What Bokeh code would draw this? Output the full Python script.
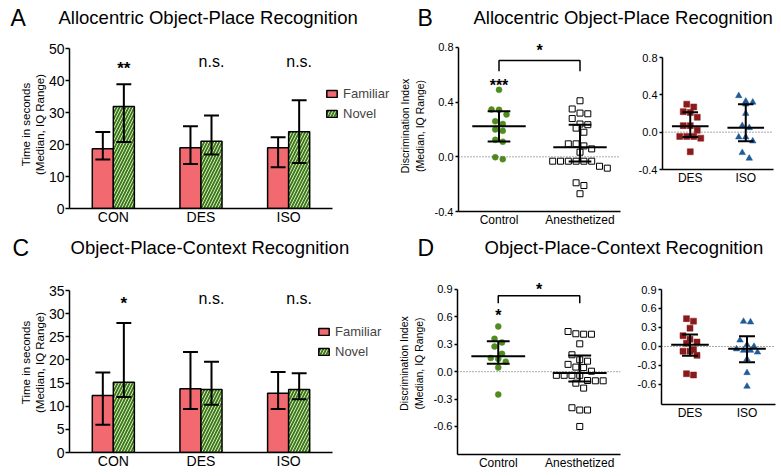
from bokeh.plotting import figure
from bokeh.models import Range1d, FixedTicker, Span, Label, Legend, LegendItem, NumeralTickFormatter
from bokeh.layouts import column, row
from bokeh.embed import file_html
from bokeh.resources import INLINE

FONT = "Liberation Sans"

# ---------------- data ----------------
groups = ["CON", "DES", "ISO"]
series_names = ["Familiar", "Novel"]

a_letter = "A"
a_title = "Allocentric Object-Place Recognition"
a_fam_median = [18.7, 19.0, 19.0]
a_fam_q1 = [15.3, 13.9, 12.9]
a_fam_q3 = [23.9, 25.7, 22.3]
a_nov_median = [31.9, 21.0, 24.0]
a_nov_q1 = [20.8, 16.9, 14.2]
a_nov_q3 = [38.8, 29.1, 33.8]
a_sig = ["**", "n.s.", "n.s."]
a_yticks = [0, 10, 20, 30, 40, 50]

c_letter = "C"
c_title = "Object-Place-Context Recognition"
c_fam_median = [12.3, 13.8, 12.8]
c_fam_q1 = [6.0, 9.4, 9.4]
c_fam_q3 = [17.3, 21.7, 17.4]
c_nov_median = [15.2, 13.6, 13.6]
c_nov_q1 = [12.0, 10.3, 11.5]
c_nov_q3 = [28.0, 19.6, 17.1]
c_sig = ["*", "n.s.", "n.s."]
c_yticks = [0, 5, 10, 15, 20, 25, 30, 35]

di_groups = ["Control", "Anesthetized"]
agent_groups = ["DES", "ISO"]

b_letter = "B"
b_title = "Allocentric Object-Place Recognition"
b_control = [0.49, 0.346, 0.344, 0.31, 0.26, 0.24, 0.20, 0.19, 0.124, 0.11, -0.003, -0.017]
b_anesth = [0.41, 0.35, 0.32, 0.315, 0.28, 0.24, 0.235, 0.21, 0.18, 0.095, 0.095, 0.08, 0.058,
            0.034, -0.032, -0.032, -0.032, -0.032, -0.032, -0.032, -0.069, -0.083, -0.19, -0.21, -0.27]
b_des = [0.30, 0.27, 0.22, 0.21, 0.16, 0.07, 0.07, 0.02, -0.046, -0.046, -0.046, -0.064, -0.21]
b_iso = [0.39, 0.33, 0.32, 0.30, 0.20, 0.07, 0.047, -0.053, -0.053, -0.096, -0.22, -0.28]
b_di_median = [0.224, 0.07]
b_di_q1 = [0.112, -0.034]
b_di_q3 = [0.334, 0.234]
b_agent_median = [0.064, 0.047]
b_agent_q1 = [-0.053, -0.096]
b_agent_q3 = [0.214, 0.30]
b_yticks = [-0.4, 0.0, 0.4, 0.8]
b_sig_control = "***"
b_sig_between = "*"

d_letter = "D"
d_title = "Object-Place-Context Recognition"
d_control = [0.495, 0.36, 0.32, 0.275, 0.195, 0.15, 0.14, 0.11, 0.045, -0.25]
d_anesth = [0.44, 0.415, 0.41, 0.41, 0.305, 0.185, 0.13, 0.115, 0.08, 0.05, 0.045, 0.005,
            -0.04, -0.04, -0.04, -0.04, -0.097, -0.10, -0.10, -0.126, -0.18, -0.395, -0.42, -0.42, -0.6]
d_des = [0.44, 0.40, 0.29, 0.17, 0.115, 0.07, 0.05, -0.047, -0.074, -0.074, -0.14, -0.43, -0.45]
d_iso = [0.395, 0.385, 0.10, 0.027, 0.0, -0.04, -0.063, -0.063, -0.09, -0.2, -0.415, -0.63]
d_di_median = [0.17, -0.015]
d_di_q1 = [0.086, -0.107]
d_di_q3 = [0.334, 0.177]
d_agent_median = [0.027, -0.037]
d_agent_q1 = [-0.147, -0.25]
d_agent_q3 = [0.19, 0.163]
d_yticks = [-0.6, -0.3, 0.0, 0.3, 0.6, 0.9]
d_sig_control = "*"
d_sig_between = "*"

# ---------------- styles ----------------
FAM_FILL = "#f26a70"
NOV_LIGHT = "#d8eac0"
NOV_DARK = "#3d7a1c"
GREEN = "#4e8c1e"
DARKRED = "#8b1a1a"
BLUE = "#1f5a99"

BAR_W = 0.24
BAR_OFF = 0.12
CAP = 0.085
MED_HALF = 0.33
IQR_HALF = 0.14


def base_fig(width, height, left, right, top, bottom, xr, yr):
    p = figure(width=width, height=height, x_range=xr, y_range=yr,
               output_backend="svg", toolbar_location=None,
               min_border_left=left, min_border_right=right,
               min_border_top=top, min_border_bottom=bottom)
    p.grid.visible = False
    p.outline_line_color = None
    p.background_fill_color = "white"
    p.border_fill_color = "white"
    for ax in p.axis:
        ax.axis_line_width = 1.5
        ax.axis_line_color = "black"
        ax.major_tick_line_width = 1.5
        ax.major_tick_line_color = "black"
        ax.minor_tick_line_color = None
        ax.major_tick_in = 0
        ax.major_label_text_font = FONT
        ax.major_label_text_color = "black"
        ax.axis_label_text_font = FONT
        ax.axis_label_text_font_style = "normal"
        ax.axis_label_text_color = "black"
    return p


def title_strip(width, height, items):
    p = figure(width=width, height=height, x_range=Range1d(0, width), y_range=Range1d(0, height),
               output_backend="svg", toolbar_location=None,
               x_axis_location=None, y_axis_location=None, min_border=0)
    p.grid.visible = False
    p.outline_line_color = None
    for x, y, txt, size in items:
        p.add_layout(Label(x=x, y=y, x_units="screen", y_units="screen", text=txt,
                           text_font=FONT, text_font_size=size, text_baseline="middle",
                           text_align="left", text_color="black"))
    return p


def bar_panel(width, height, left, right, top, bottom, ymax_axis, ymax_range, xmax_range,
              yticks, fam_med, fam_q1, fam_q3, nov_med, nov_q1, nov_q3, sig, star_y, ns_y,
              legend_xy, label_standoff):
    n = len(groups)
    p = base_fig(width, height, left, right, top, bottom,
                 Range1d(0, xmax_range), Range1d(0, ymax_range))
    centers = [i + 0.5 for i in range(n)]
    fam_x = [c - BAR_OFF for c in centers]
    nov_x = [c + BAR_OFF for c in centers]
    rf = p.vbar(x=fam_x, top=fam_med, bottom=0, width=BAR_W, fill_color=FAM_FILL,
                line_color="black", line_width=1.5)
    rn = p.vbar(x=nov_x, top=nov_med, bottom=0, width=BAR_W, fill_color=NOV_DARK,
                line_color="black", line_width=1.5, hatch_pattern="right_diagonal_line",
                hatch_color=NOV_LIGHT, hatch_scale=6, hatch_weight=1)
    for xs, q1, q3 in ((fam_x, fam_q1, fam_q3), (nov_x, nov_q1, nov_q3)):
        p.segment(x0=xs, y0=q1, x1=xs, y1=q3, line_color="black", line_width=2)
        p.segment(x0=[x - CAP for x in xs], y0=q1, x1=[x + CAP for x in xs], y1=q1,
                  line_color="black", line_width=2)
        p.segment(x0=[x - CAP for x in xs], y0=q3, x1=[x + CAP for x in xs], y1=q3,
                  line_color="black", line_width=2)
    for x, s in zip(nov_x, sig):
        star = "*" in s
        p.add_layout(Label(x=x, y=star_y if star else ns_y, text=s, text_align="center",
                           text_baseline="middle", text_font=FONT,
                           text_font_size="17px" if star else "16px",
                           text_font_style="bold" if star else "normal", text_color="black"))
    p.xaxis.ticker = FixedTicker(ticks=centers)
    p.xaxis.major_label_overrides = {c: g for c, g in zip(centers, groups)}
    p.xaxis.bounds = (0, n)
    p.xaxis.major_tick_out = 0
    p.xaxis.major_label_standoff = 0
    p.xaxis.major_label_text_font_size = "14px"
    p.yaxis.ticker = FixedTicker(ticks=yticks)
    p.yaxis.bounds = (0, ymax_axis)
    p.yaxis.major_tick_out = 4
    p.yaxis.major_label_standoff = 1
    p.yaxis.major_label_text_font_size = "14px"
    p.yaxis.axis_label = "Time in seconds\n(Median, IQ Range)"
    p.yaxis.axis_label_text_font_size = "11.5px"
    p.yaxis.axis_label_standoff = label_standoff
    leg = Legend(items=[LegendItem(label=series_names[0], renderers=[rf]),
                        LegendItem(label=series_names[1], renderers=[rn])],
                 location=legend_xy, orientation="vertical",
                 label_text_font=FONT, label_text_font_size="13px",
                 glyph_width=13, glyph_height=9, label_height=11, label_standoff=5,
                 spacing=5, padding=0, margin=0, border_line_color=None,
                 background_fill_alpha=0)
    p.add_layout(leg)
    return p


def swarm(values, center, px_y, px_x, step):
    order = sorted(range(len(values)), key=lambda i: -values[i])
    xs = [center] * len(values)
    rows, cur = [], []
    for i in order:
        if cur and (values[cur[0]] - values[i]) * px_y < step:
            cur.append(i)
        else:
            if cur:
                rows.append(cur)
            cur = [i]
    if cur:
        rows.append(cur)
    for r in rows:
        k = len(r)
        for j, i in enumerate(r):
            xs[i] = center + (j - (k - 1) / 2) * step / px_x
    return xs


def scatter_panel(width, height, left, right, top, bottom, ymin, ymax, ytop_axis, yticks,
                  cats, datasets, medians, q1s, q3s, styles, ylabel, label_standoff=5):
    n = len(cats)
    p = base_fig(width, height, left, right, top, bottom, Range1d(0, n), Range1d(ymin, ymax))
    fw = width - left - right
    fh = height - top - bottom
    px_x = fw / n
    px_y = fh / (ymax - ymin)
    centers = [i + 0.5 for i in range(n)]
    p.add_layout(Span(location=0, dimension="width", line_color="#555555",
                      line_dash="1 2", line_width=1))
    for c, vals, st in zip(centers, datasets, styles):
        xs = swarm(vals, c, px_y, px_x, st["step"])
        p.scatter(x=xs, y=vals, marker=st["marker"], size=st["size"],
                  fill_color=st["fill"], line_color=st["line"], line_width=st["lw"])
    p.segment(x0=[c - MED_HALF for c in centers], y0=medians,
              x1=[c + MED_HALF for c in centers], y1=medians, line_color="black", line_width=2)
    p.segment(x0=centers, y0=q1s, x1=centers, y1=q3s, line_color="black", line_width=2)
    p.segment(x0=[c - IQR_HALF for c in centers], y0=q1s,
              x1=[c + IQR_HALF for c in centers], y1=q1s, line_color="black", line_width=2)
    p.segment(x0=[c - IQR_HALF for c in centers], y0=q3s,
              x1=[c + IQR_HALF for c in centers], y1=q3s, line_color="black", line_width=2)
    p.xaxis.ticker = FixedTicker(ticks=centers)
    p.xaxis.major_label_overrides = {c: g for c, g in zip(centers, cats)}
    p.xaxis.major_tick_out = 0
    p.xaxis.major_label_standoff = 1
    p.xaxis.major_label_text_font_size = "12px"
    p.yaxis.ticker = FixedTicker(ticks=yticks)
    p.yaxis.bounds = (ymin, ytop_axis)
    p.yaxis.formatter = NumeralTickFormatter(format="0.0")
    p.yaxis.major_tick_out = 3
    p.yaxis.major_label_standoff = 2
    p.yaxis.major_label_text_font_size = "11px"
    if ylabel:
        p.yaxis.axis_label = ylabel
        p.yaxis.axis_label_text_font_size = "10.5px"
        p.yaxis.axis_label_standoff = label_standoff
    return p, centers


def add_sig(p, centers, sig_control, sig_between, y_ctrl, y_bar, y_tip, y_star):
    p.line(x=[centers[0], centers[0], centers[1], centers[1]], y=[y_tip, y_bar, y_bar, y_tip],
           line_color="black", line_width=1.5)
    p.add_layout(Label(x=centers[0], y=y_ctrl, text=sig_control, text_align="center",
                       text_baseline="middle", text_font=FONT, text_font_size="16px",
                       text_font_style="bold", text_color="black"))
    p.add_layout(Label(x=(centers[0] + centers[1]) / 2, y=y_star, text=sig_between,
                       text_align="center", text_baseline="middle", text_font=FONT,
                       text_font_size="16px", text_font_style="bold", text_color="black"))


ctrl_style = dict(marker="circle", size=6, fill=GREEN, line=GREEN, lw=0.5, step=7.5)
anes_style = dict(marker="square", size=6, fill="white", line="black", lw=1, step=7.8)
des_style = dict(marker="square", size=6, fill=DARKRED, line=DARKRED, lw=0.5, step=7)
iso_style = dict(marker="triangle", size=6.5, fill=BLUE, line=BLUE, lw=0.5, step=7)
DI_LABEL = "Discrimination Index\n(Median, IQ Range)"

# ---------------- top row ----------------
strip_top = title_strip(781, 38, [(10, 21, a_letter, "23px"), (58, 21, a_title, "18.5px"),
                                  (417, 21, b_letter, "23px"), (473, 21, b_title, "18.5px")])
pa = bar_panel(390, 198, 69, 0, 2, 28, 50, 52.5, 3.662, a_yticks,
               a_fam_median, a_fam_q1, a_fam_q3, a_nov_median, a_nov_q1, a_nov_q3,
               a_sig, 43.8, 46.0, (256, 87), 0)
pb1, cb1 = scatter_panel(240, 198, 68, 10, 2, 25, -0.4, 0.851, 0.8, b_yticks, di_groups,
                         [b_control, b_anesth], b_di_median, b_di_q1, b_di_q3,
                         [ctrl_style, anes_style], DI_LABEL, 6)
add_sig(pb1, cb1, b_sig_control, b_sig_between, 0.52, 0.705, 0.626, 0.78)
pb2, cb2 = scatter_panel(151, 198, 32, 8, 19, 67, -0.4, 0.8, 0.8, b_yticks, agent_groups,
                         [b_des, b_iso], b_agent_median, b_agent_q1, b_agent_q3,
                         [des_style, iso_style], None)

# ---------------- bottom row ----------------
strip_bot = title_strip(781, 32, [(12, 21, c_letter, "23px"), (70, 21, c_title, "18.5px"),
                                  (417, 21, d_letter, "23px"), (484, 21, d_title, "18.5px")])
pc = bar_panel(390, 208, 69, 0, 4, 24, 35, 38.9, 3.662, c_yticks,
               c_fam_median, c_fam_q1, c_fam_q3, c_nov_median, c_nov_q1, c_nov_q3,
               c_sig, 32.3, 33.2, (248, 93), 0)
pd1, cd1 = scatter_panel(240, 208, 67, 10, 4, 22, -0.907, 1.086, 0.9, d_yticks, di_groups,
                         [d_control, d_anesth], d_di_median, d_di_q1, d_di_q3,
                         [ctrl_style, anes_style], DI_LABEL, 6)
add_sig(pd1, cd1, d_sig_control, d_sig_between, 0.61, 0.831, 0.75, 0.90)
pd2, cd2 = scatter_panel(151, 208, 31, 6, 21, 72, -0.916, 0.9, 0.9, d_yticks, agent_groups,
                         [d_des, d_iso], d_agent_median, d_agent_q1, d_agent_q3,
                         [des_style, iso_style], None)

layout = column(strip_top,
                row(column(pa), column(pb1), column(pb2), spacing=0),
                strip_bot,
                row(column(pc), column(pd1), column(pd2), spacing=0),
                spacing=0)

open("out.html", "w").write(file_html(layout, INLINE))
